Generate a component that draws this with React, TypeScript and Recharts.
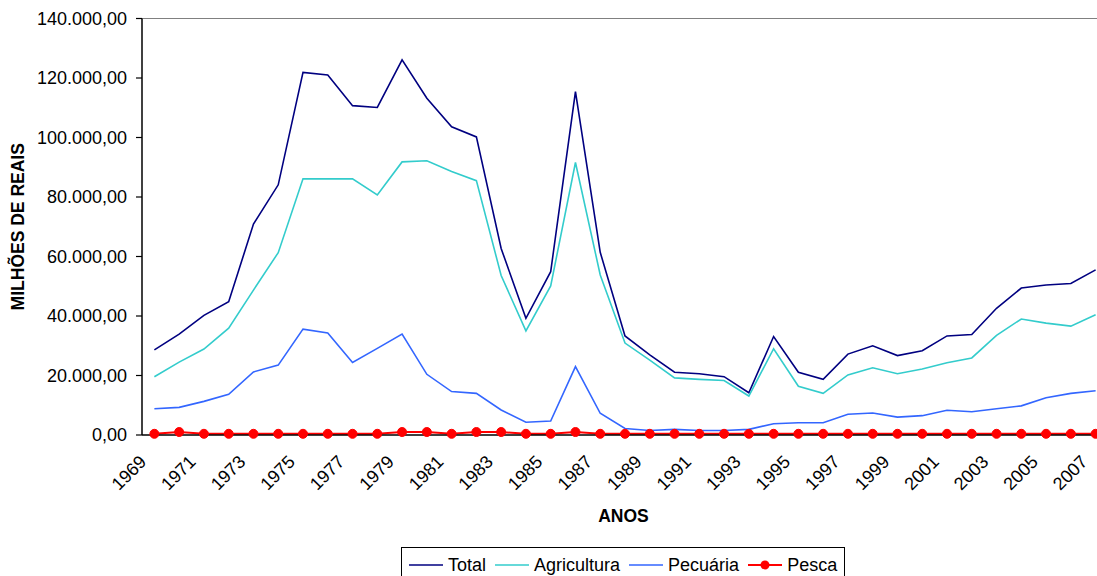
import React from 'react';
import { LineChart, Line, XAxis, YAxis, ReferenceLine, Legend } from 'recharts';

const years = [1969, 1970, 1971, 1972, 1973, 1974, 1975, 1976, 1977, 1978, 1979, 1980, 1981, 1982, 1983, 1984, 1985, 1986, 1987, 1988, 1989, 1990, 1991, 1992, 1993, 1994, 1995, 1996, 1997, 1998, 1999, 2000, 2001, 2002, 2003, 2004, 2005, 2006, 2007];
const total = [28600, 33900, 40200, 44800, 70900, 84100, 121900, 121000, 110700, 110100, 126100, 113200, 103600, 100200, 62700, 39200, 54900, 115400, 61400, 33300, 26900, 21100, 20600, 19600, 14200, 33100, 21100, 18700, 27200, 30000, 26700, 28300, 33300, 33800, 42600, 49400, 50400, 50900, 55500];
const agricultura = [19600, 24500, 28900, 35900, 48700, 61300, 86100, 86100, 86100, 80700, 91800, 92200, 88600, 85500, 53600, 35000, 50100, 91600, 53800, 30900, 25200, 19200, 18700, 18300, 13100, 29000, 16400, 14000, 20200, 22600, 20600, 22200, 24300, 25900, 33500, 39000, 37600, 36600, 40400];
const pecuaria = [8800, 9300, 11300, 13700, 21200, 23500, 35600, 34300, 24400, 29100, 33900, 20400, 14600, 14000, 8400, 4300, 4700, 23000, 7300, 2200, 1500, 1900, 1500, 1500, 1900, 3800, 4100, 4100, 7000, 7400, 6000, 6500, 8300, 7800, 8800, 9800, 12500, 14000, 14900];
const pesca = [400, 1000, 400, 400, 400, 400, 400, 400, 400, 400, 1000, 1000, 400, 1000, 1000, 400, 400, 1000, 400, 400, 400, 400, 400, 400, 400, 400, 400, 400, 400, 400, 400, 400, 400, 400, 400, 400, 400, 400, 400];
const yTicks = [0, 20000, 40000, 60000, 80000, 100000, 120000, 140000];
const labelYears = years.filter((_, i) => i % 2 === 0);
const boundaryTicks = [...years.map((y) => y - 0.5), years[years.length - 1] + 0.5];

const seriesInfo = [
  { key: 'total', name: 'Total', color: '#000080', dot: false },
  { key: 'agricultura', name: 'Agricultura', color: '#33CCCC', dot: false },
  { key: 'pecuaria', name: 'Pecuária', color: '#3366FF', dot: false },
  { key: 'pesca', name: 'Pesca', color: '#FF0000', dot: true },
];

const data = years.map((year, i) => ({
  year,
  total: total[i],
  agricultura: agricultura[i],
  pecuaria: pecuaria[i],
  pesca: pesca[i],
}));

const FONT = '"Liberation Sans", Arial, sans-serif';

const fmt = (v: number) =>
  Math.round(v).toString().replace(/\B(?=(\d{3})+(?!\d))/g, '.') + ',00';

const XTick = (props: any) => {
  const { x, y, payload } = props;
  return (
    <g transform={`translate(${x - 7},${y + 27})`}>
      <text transform="rotate(-45)" textAnchor="end" fontSize={18} fontFamily={FONT} fill="#000">
        {payload.value}
      </text>
    </g>
  );
};

const YTitle = (props: any) => {
  const vb = props.viewBox;
  const cx = 18;
  const cy = vb.y + vb.height / 2;
  return (
    <text
      x={cx}
      y={cy}
      transform={`rotate(-90, ${cx}, ${cy})`}
      textAnchor="middle"
      dominantBaseline="central"
      fontSize={17.5}
      fontWeight="bold"
      fontFamily={FONT}
      fill="#000"
    >
      MILHÕES DE REAIS
    </text>
  );
};

const XTitle = (props: any) => {
  const vb = props.viewBox;
  return (
    <text
      x={vb.x + vb.width / 2 - 1.5}
      y={522}
      textAnchor="middle"
      fontSize={17.5}
      fontWeight="bold"
      fontFamily={FONT}
      fill="#000"
    >
      ANOS
    </text>
  );
};

const LegendBox = () => (
  <div
    style={{
      border: '1px solid #000',
      background: '#fff',
      display: 'flex',
      alignItems: 'center',
      padding: '7px 7px 10px 7px',
      fontFamily: FONT,
      fontSize: 18,
      lineHeight: '20px',
      color: '#000',
      whiteSpace: 'nowrap',
    }}
  >
    {seriesInfo.map((s, i) => (
      <div key={s.key} style={{ display: 'flex', alignItems: 'center', marginLeft: i === 0 ? 0 : 9 }}>
        <svg width={34} height={12} style={{ display: 'block', marginRight: 5 }}>
          <line x1={0} y1={6} x2={34} y2={6} stroke={s.color} strokeWidth={s.dot ? 2 : 1.6} />
          {s.dot && <circle cx={17} cy={6} r={4.5} fill={s.color} />}
        </svg>
        <span>{s.name}</span>
      </div>
    ))}
  </div>
);

export default function App() {
  return (
    <div style={{ position: 'fixed', left: 0, top: 0, width: 1097, height: 576, overflow: 'hidden', background: '#fff' }}>
      <LineChart width={1108} height={576} data={data} margin={{ top: 18.5, right: 0, left: 0, bottom: 0 }}>
        <YAxis
          width={142}
          type="number"
          domain={[0, 140000]}
          ticks={yTicks}
          interval={0}
          tickFormatter={fmt}
          axisLine={{ stroke: '#000', strokeWidth: 1.5 }}
          tickLine={{ stroke: '#000', strokeWidth: 1.2 }}
          tickSize={6}
          tickMargin={9}
          tick={{ fontSize: 18, fontFamily: FONT, fill: '#000' }}
          label={<YTitle />}
        />
        <XAxis
          xAxisId="bounds"
          dataKey="year"
          type="number"
          domain={[years[0] - 0.5, years[years.length - 1] + 0.5]}
          ticks={boundaryTicks}
          interval={0}
          height={1}
          tick={false}
          tickSize={6}
          axisLine={{ stroke: '#000', strokeWidth: 1.5 }}
          tickLine={{ stroke: '#000', strokeWidth: 1.2 }}
        />
        <XAxis
          xAxisId="labels"
          dataKey="year"
          type="number"
          domain={[years[0] - 0.5, years[years.length - 1] + 0.5]}
          ticks={labelYears}
          interval={0}
          height={140}
          axisLine={false}
          tickLine={false}
          tickSize={0}
          tickMargin={0}
          tick={<XTick />}
          label={<XTitle />}
        />
        <ReferenceLine xAxisId="bounds" y={140000} stroke="#808080" strokeWidth={1.2} ifOverflow="visible" />
        {seriesInfo.map((s) => (
          <Line
            key={s.key}
            xAxisId="bounds"
            type="linear"
            dataKey={s.key}
            name={s.name}
            stroke={s.color}
            strokeWidth={s.dot ? 2 : 1.6}
            dot={s.dot ? { r: 4.5, fill: s.color, stroke: s.color, strokeWidth: 1 } : false}
            activeDot={false}
            isAnimationActive={false}
          />
        ))}
        <Legend
          layout="vertical"
          align="center"
          verticalAlign="middle"
          content={<LegendBox />}
          wrapperStyle={{ position: 'absolute', left: 401, top: 547, width: 'auto', height: 'auto' }}
        />
      </LineChart>
    </div>
  );
}
